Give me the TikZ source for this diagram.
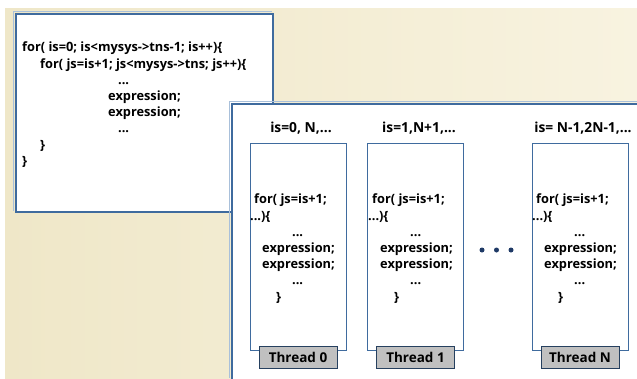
\documentclass[tikz,border=0pt]{standalone}
\usepackage{fontspec}
\setmainfont{Open Sans}
\usetikzlibrary{positioning}
\definecolor{paperL}{HTML}{EFE7C8}
\definecolor{paperR}{HTML}{F8F3E0}
\definecolor{frame}{HTML}{3F6B9E}
\definecolor{frameL}{HTML}{A9C0DA}
\definecolor{tagfill}{HTML}{C0C0C0}
\definecolor{dotblue}{HTML}{1F3A66}
\def\seqbox{(16,14) rectangle (273,212)}
\def\threadpanel{(232,104) rectangle (650,390)}
\def\loopbody{%
 \hspace*{4pt}for( js=is+1;\\
 ...)\{\\
 \hspace*{42pt}...\\
 \hspace*{12pt}expression;\\
 \hspace*{12pt}expression;\\
 \hspace*{42pt}...\\
 \hspace*{26pt}\}}
\tikzset{
  codebox/.style={draw=frame, line width=1.3pt, fill=white},
  column/.style={draw=frame, line width=1pt, minimum width=96pt, minimum height=207pt, inner sep=0pt},
  threadtag/.style={draw=frame!60!black, fill=tagfill, line width=1pt, minimum width=78pt, minimum height=22pt, inner sep=0pt, font=\bfseries\fontsize{13.5}{14}\selectfont},
  code/.style={font=\bfseries\fontsize{12.8}{16.2}\selectfont, align=left, inner sep=0pt},
  head/.style={font=\bfseries\fontsize{13.8}{14}\selectfont, inner sep=0pt},
  dot/.style={circle, fill=dotblue, minimum size=5pt, inner sep=0pt}
}
\begin{document}
\begin{tikzpicture}[x=1pt,y=-1pt]
	\useasboundingbox (0,0) rectangle (637,378);
	\shade[left color=paperL, right color=paperR] (5,8) rectangle (637,378);

%	sequential loop
	\draw[frameL, line width=1pt] (13.5,211) -- (13.5,11.5) -- (272,11.5);
	\draw[codebox] \seqbox;
	\node[code, anchor=north west] (seq) at (22,42) {%
	for( is=0; is<mysys->tns-1; is++)\{\\
	\hspace*{18pt}for( js=is+1; js<mysys->tns; js++)\{\\
	\hspace*{96pt}...\\
	\hspace*{86pt}expression;\\
	\hspace*{86pt}expression;\\
	\hspace*{96pt}...\\
	\hspace*{18pt}\}\\
	\}};

%	parallel threads
	\draw[frameL, line width=1pt] (229.5,378) -- (229.5,101.5) -- (637,101.5);
	\draw[codebox] \threadpanel;

	\node[column] (col0) at (298,246.5) {};
	\node[column] (col1) at (415.5,246.5) {};
	\node[column] (colN) at (580,246.5) {};

	\node[head] (head0) at (301,128) {is=0, N,...};
	\node[head] (head1) at (419,128) {is=1,N+1,...};
	\node[head] (headN) at (583,128) {is= N-1,2N-1,...};

	\node[code, anchor=north west] (body0) at (250,194) {\loopbody};
	\node[code, anchor=north west] (body1) at (368,194) {\loopbody};
	\node[code, anchor=north west] (bodyN) at (532,194) {\loopbody};

	\node[threadtag, below=-5pt of col0] (tag0) {Thread 0};
	\node[threadtag, below=-5pt of col1] (tag1) {Thread 1};
	\node[threadtag, below=-5pt of colN] (tagN) {Thread N};

	\node[dot] (dot1) at (482,250) {};
	\node[dot] (dot2) at (496.5,250) {};
	\node[dot] (dot3) at (511,250) {};
\end{tikzpicture}
\end{document}
